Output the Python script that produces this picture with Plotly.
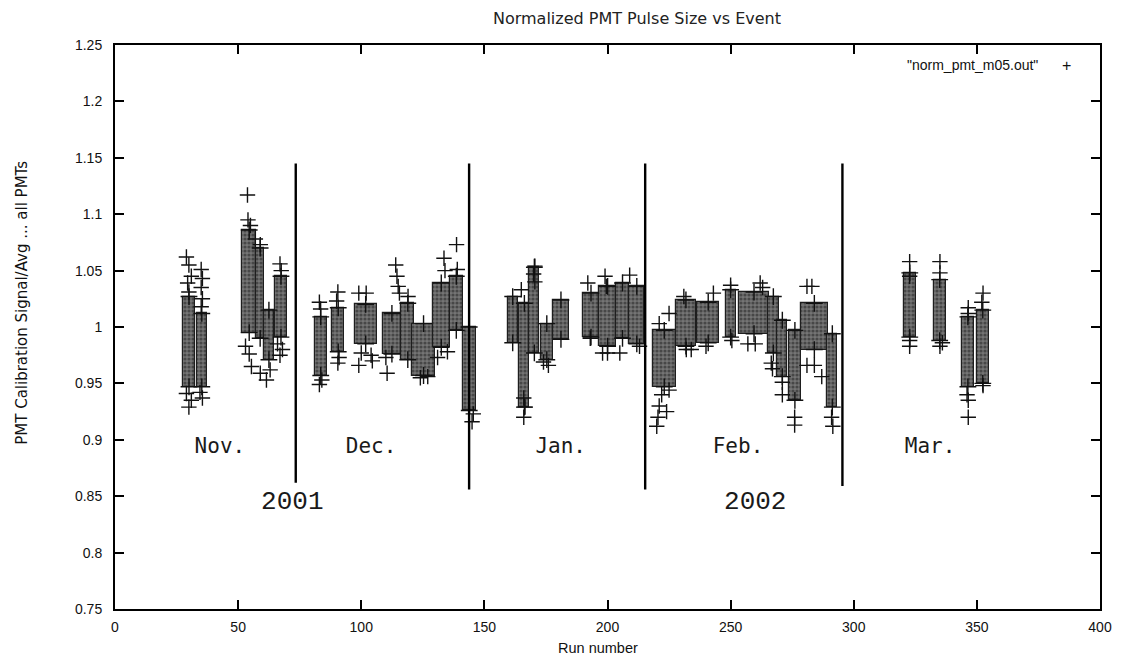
import plotly.graph_objects as go

# ---------------- data ----------------
# dense bands of measurements: run range [x0, x1], signal range [lo, hi]
band_x0 = [27.7, 33.1, 51.6, 57.4, 60.5, 64.9,
           81.1, 88.3, 97.3, 108.7, 116.3, 120.8, 129.0, 136.0, 141.2,
           159.5, 164.2, 168.3, 173.0, 177.7, 189.9, 196.7, 203.4, 208.8,
           218.3, 227.8, 236.5, 248.0, 253.4, 265.0, 269.0, 273.7, 278.5, 289.3,
           320.4, 332.5, 344.0, 350.0]
band_x1 = [32.4, 37.4, 57.4, 60.5, 64.5, 69.9,
           86.0, 93.0, 106.3, 116.2, 121.5, 129.8, 136.0, 141.2, 146.5,
           163.5, 168.3, 172.3, 177.7, 184.5, 196.7, 203.4, 208.8, 215.0,
           227.8, 235.9, 245.3, 252.0, 265.6, 269.7, 273.0, 278.5, 289.5, 293.3,
           325.1, 337.3, 348.7, 354.8]
band_lo = [0.947, 0.947, 0.995, 0.990, 0.971, 0.991,
           0.957, 0.978, 0.985, 0.976, 0.971, 0.957, 0.982, 0.997, 0.926,
           0.986, 0.929, 0.977, 0.971, 0.989, 0.991, 0.983, 0.990, 0.985,
           0.947, 0.983, 0.986, 0.991, 0.994, 0.977, 0.956, 0.935, 0.980, 0.929,
           0.991, 0.988, 0.947, 0.950]
band_hi = [1.027, 1.012, 1.086, 1.070, 1.015, 1.045,
           1.009, 1.017, 1.020, 1.012, 1.021, 1.003, 1.039, 1.045, 1.000,
           1.027, 1.021, 1.053, 1.003, 1.024, 1.030, 1.036, 1.039, 1.036,
           0.997, 1.024, 1.022, 1.033, 1.031, 1.027, 1.006, 0.997, 1.021, 0.994,
           1.048, 1.042, 1.009, 1.015]

# individual (sparse) points
pt_x = [29, 30, 29.5, 30, 31, 29, 30, 31,
        35, 35.5, 35, 35.5, 35, 35.5, 34.5,
        53.8, 54, 55, 53, 54.5, 55.4, 59, 61.5, 63, 57, 59,
        67, 67.5, 66, 67, 68,
        83, 83.5, 83, 84, 90.5, 90, 90.5, 91, 99, 102, 100, 99, 104, 104.5,
        110, 110.5, 114, 114.5, 115, 115.5, 119, 124, 127, 133.6, 134,
        138.7, 139, 145, 145.5, 131, 135,
        166, 166.5, 166, 165, 170.5, 170, 170.5, 174, 176, 192, 193, 199,
        199.5, 198, 200, 205, 209, 213,
        220, 220.5, 221, 222, 224, 225, 221, 225, 231, 232, 234, 243, 240,
        250, 250.5, 257, 260, 262, 263, 267, 266.5, 271, 271, 276, 276,
        281, 283, 281, 284, 287, 291.5, 291,
        322.7, 322.7, 322.7, 322.7, 335, 335, 335, 336, 346.5, 346.5,
        346.5, 346, 346.5, 352.5, 352, 352.5]
pt_y = [1.062, 1.055, 1.039, 1.031, 1.045, 0.941, 0.929, 0.935,
        1.051, 1.043, 1.035, 1.025, 1.018, 0.937, 0.942,
        1.117, 1.095, 1.090, 0.983, 0.976, 0.965, 0.959, 0.953, 0.962, 1.078, 1.073,
        1.056, 1.050, 0.985, 0.975, 0.980,
        1.022, 1.016, 0.949, 0.953, 1.031, 1.023, 0.968, 0.973, 1.030, 1.030,
        0.977, 0.966, 0.975, 0.970,
        0.973, 0.959, 1.055, 1.045, 1.036, 1.030, 1.027, 0.955, 0.956, 1.061, 1.050,
        1.073, 1.051, 0.916, 0.923, 0.973, 0.978,
        0.920, 0.929, 0.937, 1.033, 1.054, 1.047, 1.040, 0.969, 0.966, 1.039,
        0.990, 1.045, 1.036, 0.977, 0.977, 0.977, 1.046, 0.983,
        0.912, 0.920, 0.930, 0.940, 0.925, 0.944, 1.003, 1.012, 1.027, 0.980,
        0.980, 1.030, 0.983,
        1.037, 0.988, 0.985, 0.985, 1.039, 1.035, 0.963, 0.968, 0.951, 0.940,
        0.920, 0.913,
        1.036, 1.036, 0.966, 0.966, 0.956, 0.912, 0.920,
        1.058, 1.045, 0.988, 0.983, 1.058, 1.048, 0.983, 0.986, 1.017, 1.012,
        0.935, 0.940, 0.920, 1.030, 1.022, 0.948]

# month separators
sep_x = [73.4, 143.8, 215.3, 295.4]
sep_lo = [0.862, 0.856, 0.856, 0.859]
sep_hi = [1.145, 1.145, 1.145, 1.145]

month_names = ["Nov.", "Dec.", "Jan.", "Feb.", "Mar."]
month_x = [42.6, 104.0, 181.0, 253.0, 331.0]
month_y = [0.893, 0.893, 0.893, 0.893, 0.893]

year_names = ["2001", "2002"]
year_x = [72.0, 260.0]
year_y = [0.844, 0.844]

x_ticks = [0, 50, 100, 150, 200, 250, 300, 350, 400]
y_ticks = [0.75, 0.8, 0.85, 0.9, 0.95, 1.0, 1.05, 1.1, 1.15, 1.2, 1.25]
y_tick_text = ["0.75", "0.8", "0.85", "0.9", "0.95", "1", "1.05", "1.1", "1.15", "1.2", "1.25"]

# ---------------- figure ----------------
fig = go.Figure()

centers = [(a + b) / 2 for a, b in zip(band_x0, band_x1)]
widths = [b - a for a, b in zip(band_x0, band_x1)]
heights = [h - l for l, h in zip(band_lo, band_hi)]

fig.add_trace(go.Bar(
    x=centers, y=heights, base=band_lo, width=widths,
    marker=dict(color="#666666", line=dict(color="#1e1e1e", width=1.2),
                pattern=dict(shape=".", fgcolor="#1a1a1a", bgcolor="#747474",
                             size=4, solidity=0.5)),
    showlegend=False, hoverinfo="skip"))

# '+' fringes at the top and bottom edge of each dense band
edge_x = centers + centers
edge_y = band_hi + band_lo
fig.add_trace(go.Scatter(
    x=edge_x, y=edge_y, mode="markers",
    marker=dict(symbol="cross-thin", size=12, color="#111111",
                line=dict(color="#111111", width=1.4)),
    showlegend=False, hoverinfo="skip"))

fig.add_trace(go.Scatter(
    x=pt_x, y=pt_y, mode="markers",
    marker=dict(symbol="cross-thin", size=11, color="#111111",
                line=dict(color="#111111", width=1.4)),
    showlegend=False))

lx, ly = [], []
for x, lo, hi in zip(sep_x, sep_lo, sep_hi):
    lx += [x, x, None]
    ly += [lo, hi, None]
fig.add_trace(go.Scatter(x=lx, y=ly, mode="lines",
                         line=dict(color="#000000", width=2.4),
                         showlegend=False, hoverinfo="skip"))

fig.add_trace(go.Scatter(x=month_x, y=month_y, mode="text", text=month_names,
                         textfont=dict(family="DejaVu Sans Mono", size=21, color="#1a1a1a"),
                         showlegend=False))
fig.add_trace(go.Scatter(x=year_x, y=year_y, mode="text", text=year_names,
                         textfont=dict(family="Liberation Mono", size=26, color="#1a1a1a"),
                         showlegend=False))

fig.add_annotation(xref="paper", yref="paper", x=0.939, y=0.964,
                   xanchor="right", yanchor="middle", showarrow=False,
                   text='"norm_pmt_m05.out"',
                   font=dict(family="Liberation Sans", size=14, color="#111"))
fig.add_annotation(xref="paper", yref="paper", x=0.9655, y=0.964,
                   xanchor="center", yanchor="middle", showarrow=False,
                   text='+',
                   font=dict(family="Liberation Sans", size=16, color="#111"))

# axis titles
fig.add_annotation(xref="paper", yref="paper", x=-0.0944, y=0.543,
                   xanchor="center", yanchor="middle", showarrow=False, textangle=-90,
                   text="PMT Calibration Signal/Avg ... all PMTs",
                   font=dict(family="DejaVu Sans", size=15, color="#111"))
fig.add_annotation(xref="paper", yref="paper", x=0.49, y=-0.07,
                   xanchor="center", yanchor="middle", showarrow=False,
                   text="Run number",
                   font=dict(family="Liberation Sans", size=14.5, color="#111"))

# page body adds an 8px offset, margins compensate for it
fig.update_layout(
    width=1126, height=664,
    margin=dict(l=107, r=34, t=37, b=63, autoexpand=False),
    paper_bgcolor="white", plot_bgcolor="white",
    barmode="overlay", bargap=0,
    title=dict(text="Normalized PMT Pulse Size vs Event", x=0.5586, y=0.985,
               xanchor="center", yanchor="middle",
               font=dict(family="DejaVu Sans", size=16, color="#222")),
    font=dict(family="Liberation Sans", size=13, color="#111"),
)

fig.update_xaxes(range=[0, 400], tickvals=x_ticks, ticks="inside", ticklen=9,
                 tickwidth=1.5, tickcolor="#000", mirror="allticks", showline=True,
                 linewidth=2, linecolor="#000", showgrid=False, zeroline=False,
                 automargin=False, ticklabelstandoff=4,
                 tickfont=dict(family="Liberation Sans Narrow, Liberation Sans", size=14))
fig.update_yaxes(range=[0.75, 1.25], tickvals=y_ticks, ticktext=y_tick_text,
                 ticks="inside", ticklen=9, tickwidth=1.5, tickcolor="#000",
                 mirror="allticks", showline=True, linewidth=2, linecolor="#000",
                 showgrid=False, zeroline=False, automargin=False,
                 ticklabelstandoff=8,
                 tickfont=dict(family="Liberation Sans", size=14))

fig.write_html("out.html")
